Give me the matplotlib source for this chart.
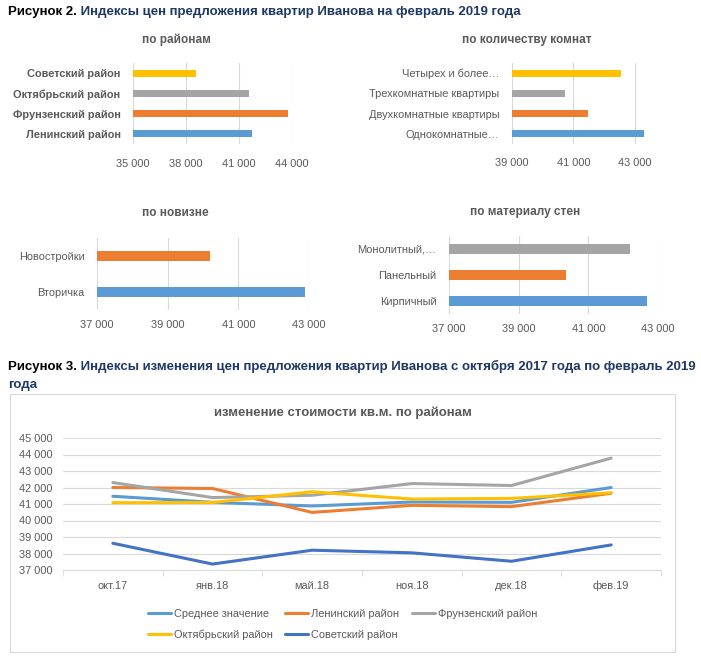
import matplotlib
matplotlib.use("Agg")
import matplotlib.pyplot as plt
from matplotlib import font_manager as fm

names = {f.name for f in fm.fontManager.ttflist}
main_font = 'Liberation Sans Narrow' if 'Liberation Sans Narrow' in names else 'Liberation Sans'
NARROW = main_font == 'Liberation Sans Narrow'
plt.rcParams['font.family'] = [main_font, 'DejaVu Sans']
k = 1.12 if NARROW else 1.0

# ---- data ----
districts = ["Ленинский район", "Фрунзенский район", "Октябрьский район", "Советский район"]
district_vals = [41710, 43750, 41580, 38550]
district_colors = ["#5B9BD5", "#ED7D31", "#A5A5A5", "#FFC000"]

rooms = ["Однокомнатные…", "Двухкомнатные квартиры", "Трехкомнатные квартиры", "Четырех и более…"]
room_vals = [43300, 41480, 40730, 42550]
room_colors = ["#5B9BD5", "#ED7D31", "#A5A5A5", "#FFC000"]

novelty = ["Вторичка", "Новостройки"]
novelty_vals = [42880, 40200]
novelty_colors = ["#5B9BD5", "#ED7D31"]

walls = ["Кирпичный", "Панельный", "Монолитный,…"]
wall_vals = [42690, 40350, 42190]
wall_colors = ["#5B9BD5", "#ED7D31", "#A5A5A5"]

months = ["окт.17", "янв.18", "май.18", "ноя.18", "дек.18", "фев.19"]
series_names = ["Среднее значение", "Ленинский район", "Фрунзенский район", "Октябрьский район", "Советский район"]
avg_vals = [41470, 41100, 40880, 41120, 41100, 42000]
len_vals = [42000, 41940, 40490, 40920, 40840, 41650]
fru_vals = [42300, 41390, 41530, 42240, 42120, 43780]
okt_vals = [41080, 41090, 41740, 41300, 41340, 41680]
sov_vals = [38620, 37360, 38200, 38040, 37530, 38520]
series_vals = [avg_vals, len_vals, fru_vals, okt_vals, sov_vals]
series_colors = ["#5B9BD5", "#ED7D31", "#A5A5A5", "#FFC000", "#4472C4"]

W, H = 701, 672
fig = plt.figure(figsize=(W / 100, H / 100), dpi=100)
fig.patch.set_facecolor("white")

def fx(px):
    return px / W

def fy(py):
    return 1 - py / H

GRID = "#D9D9D9"
TXT = "#595959"
NAVY = "#1F3864"

FS_TITLE = 9.5 * k
FS_SUB = 8.5 * k
FS_TICK = 7.9 * k
FS_LAB = 7.9 * k

def fmt(v):
    return f"{int(v):,}".replace(",", " ")

def bar_panel(rect, cats, vals, colors, xmin, xmax, ticks, bh, xpad, bold_labels=False):
    ax = fig.add_axes(rect)
    ax.barh(range(len(cats)), [v - xmin for v in vals], left=xmin, color=colors, height=bh, zorder=3)
    ax.set_xlim(xmin, xmax)
    ax.set_ylim(-0.5, len(cats) - 0.5)
    ax.set_xticks(ticks)
    ax.set_xticklabels([fmt(t) for t in ticks])
    ax.set_yticks(range(len(cats)))
    ax.set_yticklabels(cats, fontweight='bold' if bold_labels else 'normal')
    for t in ticks:
        ax.axvline(t, color=GRID, lw=0.8, zorder=1)
    for s in ax.spines.values():
        s.set_visible(False)
    ax.tick_params(axis='x', length=0, colors=TXT, labelsize=FS_TICK, pad=xpad)
    ax.tick_params(axis='y', length=0, colors=TXT, labelsize=FS_LAB, pad=9)
    return ax

# Title 1
t1 = fig.text(fx(8), fy(12), "Рисунок 2.", fontsize=FS_TITLE, fontweight='bold', color='black', va='center', ha='left')
fig.add_artist(plt.Annotation(" Индексы цен предложения квартир Иванова на февраль 2019 года",
                              xy=(1, 0), xycoords=t1, va='bottom', ha='left',
                              fontsize=FS_TITLE, fontweight='bold', color=NAVY))

# Panel 1
bar_panel([fx(133), fy(144), fx(292) - fx(133), (144 - 63) / H], districts, district_vals, district_colors,
          35000, 44000, [35000, 38000, 41000, 44000], 0.35, 10.5, bold_labels=True)
fig.text(fx(176), fy(40), "по районам", fontsize=FS_SUB, fontweight='bold', color=TXT, ha='center', va='center')

# Panel 2
bar_panel([fx(512), fy(144), fx(650) - fx(512), (144 - 63) / H], rooms, room_vals, room_colors,
          39000, 43500, [39000, 41000, 43000], 0.35, 10)
fig.text(fx(527), fy(40), "по количеству комнат", fontsize=FS_SUB, fontweight='bold', color=TXT, ha='center', va='center')

# Panel 3
bar_panel([fx(97), fy(310), fx(309) - fx(97), (310 - 238) / H], novelty, novelty_vals, novelty_colors,
          37000, 43000, [37000, 39000, 41000, 43000], 0.3, 7)
fig.text(fx(175), fy(213), "по новизне", fontsize=FS_SUB, fontweight='bold', color=TXT, ha='center', va='center')

# Panel 4
bar_panel([fx(449), fy(314), fx(658) - fx(449), (314 - 236) / H], walls, wall_vals, wall_colors,
          37000, 43000, [37000, 39000, 41000, 43000], 0.37, 7.5)
fig.text(fx(525), fy(212), "по материалу стен", fontsize=FS_SUB, fontweight='bold', color=TXT, ha='center', va='center')

# Title 2
t2 = fig.text(fx(8), fy(367), "Рисунок 3.", fontsize=FS_TITLE, fontweight='bold', color='black', va='center', ha='left')
fig.add_artist(plt.Annotation(" Индексы изменения цен предложения квартир Иванова с октября 2017 года по февраль 2019",
                              xy=(1, 0), xycoords=t2, va='bottom', ha='left',
                              fontsize=FS_TITLE, fontweight='bold', color=NAVY))
fig.text(fx(8), fy(385), "года", fontsize=FS_TITLE, fontweight='bold', color=NAVY, va='center', ha='left')

# Box around line chart
box = plt.Rectangle((fx(10), fy(652)), fx(675) - fx(10), (652 - 394) / H, transform=fig.transFigure,
                    fill=False, edgecolor=GRID, lw=0.8)
fig.add_artist(box)

# Line chart
ax = fig.add_axes([fx(63), fy(570), fx(661) - fx(63), (570 - 438) / H])
x = list(range(len(months)))
handles = []
for name, vals, c in zip(series_names, series_vals, series_colors):
    h, = ax.plot(x, vals, color=c, lw=2.2, label=name, solid_capstyle='round', zorder=3)
    handles.append(h)
ax.set_xlim(-0.5, len(months) - 0.5)
ax.set_ylim(37000, 45000)
yt = list(range(37000, 45001, 1000))
ax.set_yticks(yt)
ax.set_yticklabels([fmt(v) for v in yt])
ax.set_xticks(x)
ax.set_xticklabels(months, va='baseline')
ax.set_xticks([i - 0.5 for i in range(len(months) + 1)], minor=True)
ax.grid(axis='y', color=GRID, lw=0.8, zorder=0)
for s in ["top", "right", "left"]:
    ax.spines[s].set_visible(False)
ax.spines["bottom"].set_color(GRID)
ax.tick_params(axis='y', length=0, colors=TXT, labelsize=FS_TICK, pad=7.5)
ax.tick_params(axis='x', which='major', length=0, colors=TXT, labelsize=FS_TICK, pad=13.5)
ax.tick_params(axis='x', which='minor', length=4, color=GRID)
fig.text(fx(343), fy(413), "изменение стоимости кв.м. по районам", fontsize=FS_TITLE, fontweight='bold',
         color=TXT, ha='center', va='center')

order = [0, 3, 1, 4, 2]
leg = fig.legend([handles[i] for i in order], [series_names[i] for i in order], ncol=3,
                 loc='upper left', bbox_to_anchor=(fx(138), fy(599)), frameon=False,
                 fontsize=FS_LAB, handlelength=2.1, handletextpad=0.3, columnspacing=1.1,
                 labelspacing=1.0, labelcolor=TXT)

fig.savefig("out.png", dpi=100, facecolor="white")
